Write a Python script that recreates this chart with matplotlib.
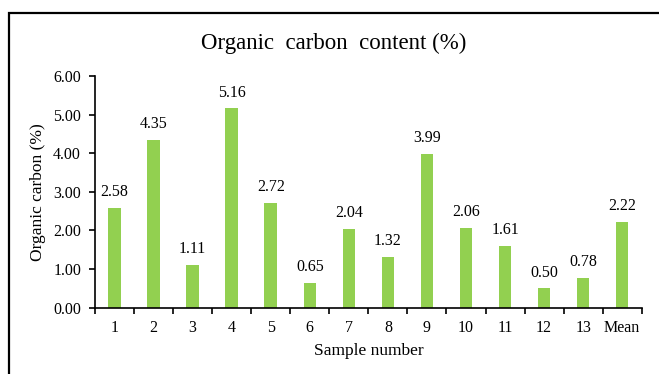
import matplotlib.pyplot as plt
import numpy as np
from matplotlib.patches import Rectangle

plt.rcParams['font.family'] = ['Liberation Serif', 'DejaVu Serif']

samples = ['1', '2', '3', '4', '5', '6', '7', '8', '9', '10', '11', '12', '13', 'Mean']
carbon = [2.58, 4.35, 1.11, 5.16, 2.72, 0.65, 2.04, 1.32, 3.99, 2.06, 1.61, 0.50, 0.78, 2.22]
yticks = [0, 1, 2, 3, 4, 5, 6]

fig = plt.figure(figsize=(6.59, 3.74), dpi=100)
W, H = 659, 374
ax = fig.add_axes([95 / W, 1 - 307.7 / H, (641.7 - 95) / W, (307.7 - 76) / H])

x = np.arange(len(samples))
ax.bar(x, carbon, width=0.32, color='#92D050', edgecolor='none')
for xi, v in zip(x, carbon):
    ax.text(xi, v + 0.2, '%.2f' % v, ha='center', va='bottom', fontsize=11.5)

ax.set_xlim(-0.5, len(samples) - 0.5)
ax.set_ylim(0, 6)
ax.set_yticks(yticks)
ax.set_yticklabels(['%.2f' % t for t in yticks], fontsize=11.5)
ax.set_xticks(x)
ax.set_xticklabels(samples, fontsize=11.5)
ax.tick_params(axis='x', length=0, pad=9)
ax.set_xticks(np.arange(-0.5, len(samples)), minor=True)
ax.tick_params(axis='x', which='minor', length=4, width=1.2, direction='out')
ax.tick_params(axis='y', length=4, width=1.2, direction='out', pad=6)
for s in ['top', 'right']:
    ax.spines[s].set_visible(False)
for s in ['left', 'bottom']:
    ax.spines[s].set_linewidth(1.2)

ax.set_xlabel('Sample number', fontsize=12.5, labelpad=5)
ax.set_ylabel('Organic carbon (%)', fontsize=12.5, labelpad=5)
fig.text(334 / W, 1 - 43 / H, 'Organic  carbon  content (%)', ha='center', va='center', fontsize=16.5)

# outer frame, partly running off the canvas
fig.patches.append(Rectangle((8.5 / W, -0.1), 1.2, 1 - 13.5 / H + 0.1, transform=fig.transFigure,
                             fill=False, edgecolor='black', linewidth=1.6))

fig.savefig('out.png', dpi=100)
